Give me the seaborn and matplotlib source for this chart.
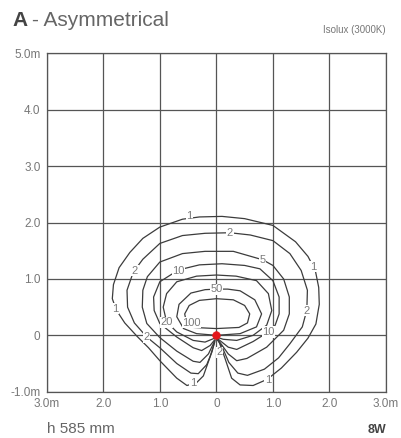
import numpy as np
import pandas as pd
import matplotlib
matplotlib.use("Agg")
import matplotlib.pyplot as plt
import seaborn as sns

# Isolux lines (lux levels) traced as closed paths, coordinates in metres
levels = [1, 2, 5, 10, 20, 50, 100]

iso_1_x = [-0.02, -0.11, -0.23, -0.35, -0.52, -0.70, -1.00, -1.20, -1.40, -1.62, -1.77, -1.84, -1.82, -1.72,
           -1.53, -1.30, -1.00, -0.60, -0.30, 0.10, 0.50, 1.00, 1.40, 1.62, 1.75, 1.81, 1.82, 1.76, 1.62,
           1.42, 1.15, 0.90, 0.65, 0.42, 0.27, 0.15, 0.05, 0.00]
iso_1_y = [-0.08, -0.38, -0.72, -0.84, -0.89, -0.76, -0.45, -0.22, -0.02, 0.22, 0.45, 0.65, 0.90, 1.20,
           1.47, 1.72, 1.92, 2.06, 2.10, 2.11, 2.07, 1.95, 1.66, 1.40, 1.15, 0.85, 0.55, 0.20, -0.05,
           -0.30, -0.58, -0.78, -0.89, -0.88, -0.76, -0.40, -0.12, -0.05]

iso_2_x = [-0.03, -0.08, -0.17, -0.32, -0.45, -0.70, -1.00, -1.23, -1.45, -1.57, -1.58, -1.47, -1.30,
           -1.00, -0.60, -0.20, 0.24, 0.60, 1.00, 1.30, 1.50, 1.61, 1.60, 1.52, 1.30, 1.10, 0.85, 0.55,
           0.38, 0.22, 0.10, 0.00]
iso_2_y = [-0.12, -0.30, -0.52, -0.68, -0.67, -0.50, -0.22, -0.03, 0.22, 0.50, 0.80, 1.12, 1.35,
           1.63, 1.77, 1.81, 1.82, 1.78, 1.68, 1.45, 1.15, 0.80, 0.45, 0.15, -0.15, -0.40, -0.60, -0.71,
           -0.67, -0.48, -0.20, -0.05]

iso_5_x = [-0.03, -0.14, -0.29, -0.41, -0.70, -1.00, -1.23, -1.31, -1.30, -1.22, -1.00, -0.60, -0.20,
           0.30, 0.82, 1.00, 1.19, 1.29, 1.29, 1.19, 0.89, 0.54, 0.36, 0.21, 0.06, 0.00]
iso_5_y = [-0.10, -0.33, -0.48, -0.46, -0.28, -0.04, 0.21, 0.50, 0.80, 1.04, 1.30, 1.45, 1.49,
           1.49, 1.34, 1.24, 1.00, 0.68, 0.38, 0.09, -0.21, -0.41, -0.45, -0.33, -0.12, -0.04]

iso_10_x = [-0.03, -0.11, -0.26, -0.41, -0.70, -1.00, -1.10, -1.11, -1.00, -0.67, -0.30, 0.10, 0.50,
            0.77, 1.00, 1.11, 1.11, 1.04, 0.92, 0.65, 0.36, 0.21, 0.06, 0.00]
iso_10_y = [-0.08, -0.18, -0.27, -0.22, -0.03, 0.21, 0.44, 0.68, 0.95, 1.16, 1.25, 1.27, 1.24,
            1.18, 0.97, 0.68, 0.38, 0.18, 0.06, -0.11, -0.25, -0.21, -0.09, -0.04]

iso_20_x = [-0.03, -0.20, -0.41, -0.70, -0.88, -0.94, -0.88, -0.70, -0.35, 0.00, 0.35, 0.71, 0.92,
            0.98, 0.89, 0.65, 0.36, 0.12, 0.00]
iso_20_y = [-0.05, -0.12, -0.09, 0.06, 0.24, 0.50, 0.74, 0.95, 1.05, 1.07, 1.05, 0.97, 0.74,
            0.44, 0.18, 0.00, -0.09, -0.07, -0.03]

iso_50_x = [0.00, -0.35, -0.58, -0.70, -0.66, -0.45, -0.20, 0.00, 0.20, 0.42, 0.68, 0.80, 0.71, 0.42, 0.00]
iso_50_y = [0.00, 0.03, 0.12, 0.33, 0.55, 0.75, 0.81, 0.82, 0.82, 0.79, 0.63, 0.38, 0.15, 0.03, 0.00]

iso_100_x = [0.00, -0.40, -0.53, -0.56, -0.48, -0.30, 0.00, 0.30, 0.50, 0.59, 0.55, 0.40, 0.00]
iso_100_y = [0.12, 0.14, 0.23, 0.38, 0.53, 0.62, 0.65, 0.63, 0.53, 0.38, 0.22, 0.14, 0.12]

# Label text and its position on the lines
label_text = ["1", "2", "5", "10", "50", "1", "2", "1", "2", "20", "100", "2", "10", "2", "1", "1"]
label_x = [-0.48, 0.24, 0.82, -0.67, 0.00, 1.71, -1.44, -1.79, 1.59, -0.88, -0.44, -1.23, 0.92, 0.06, -0.41, 0.91]
label_y = [2.12, 1.82, 1.33, 1.15, 0.82, 1.22, 1.15, 0.47, 0.44, 0.23, 0.22, -0.03, 0.06, -0.30, -0.85, -0.80]

x_ticks = [-3, -2, -1, 0, 1, 2, 3]
x_tick_labels = ["3.0m", "2.0", "1.0", "0", "1.0", "2.0", "3.0m"]
y_ticks = [-1, 0, 1, 2, 3, 4, 5]
y_tick_labels = ["-1.0m", "0", "1.0", "2.0", "3.0", "4.0", "5.0m"]

source_x = [0.0]
source_y = [0.0]

paths = {
    1: (iso_1_x, iso_1_y), 2: (iso_2_x, iso_2_y), 5: (iso_5_x, iso_5_y), 10: (iso_10_x, iso_10_y),
    20: (iso_20_x, iso_20_y), 50: (iso_50_x, iso_50_y), 100: (iso_100_x, iso_100_y),
}
frames = []
for lv in levels:
    xs, ys = paths[lv]
    frames.append(pd.DataFrame({"x": xs, "y": ys, "level": lv, "order": range(len(xs))}))
iso = pd.concat(frames, ignore_index=True)

sns.set_theme(style="white")
plt.rcParams["font.family"] = ["Liberation Sans", "DejaVu Sans"]

fig = plt.figure(figsize=(4.01, 4.38), dpi=100)
ax = fig.add_axes([0.1165, 0.1057, 0.8461, 0.7722])

line_col = "#3c3c3c"
sns.lineplot(data=iso, x="x", y="y", units="level", estimator=None, sort=False,
             color=line_col, lw=0.9, legend=False, ax=ax, zorder=3)

for t, lx, ly in zip(label_text, label_x, label_y):
    ax.text(lx, ly, t, ha="center", va="center", fontsize=8, color="#7a7a7a", zorder=4,
            bbox=dict(boxstyle="square,pad=0.05", fc="white", ec="none"))

sns.scatterplot(x=source_x, y=source_y, color="#e3161b", s=30, edgecolor="#e3161b",
                linewidth=0.5, ax=ax, zorder=5, legend=False)

ax.set_xlim(-3, 3)
ax.set_ylim(-1, 5)
ax.set_xticks(x_ticks)
ax.set_xticklabels(x_tick_labels)
ax.set_yticks(y_ticks)
ax.set_yticklabels(y_tick_labels)
ax.set_xlabel("")
ax.set_ylabel("")
ax.grid(True, color="#555555", lw=0.9, zorder=1)
ax.set_axisbelow(True)
for s in ax.spines.values():
    s.set_visible(True)
    s.set_color("#555555")
    s.set_linewidth(0.9)
ax.tick_params(axis="both", length=0, labelsize=8.5, labelcolor="#777777", pad=4.5)

fig.text(0.030, 0.9406, "A", fontsize=15, fontweight="bold", color="#444444", va="baseline")
fig.text(0.0786, 0.9406, "- Asymmetrical", fontsize=15, color="#666666", va="baseline")
fig.text(0.9626, 0.925, "Isolux (3000K)", fontsize=7, color="#777777", ha="right", va="baseline")
fig.text(0.1165, 0.011, "h 585 mm", fontsize=11, color="#666666", ha="left", va="baseline")
fig.text(0.9626, 0.011, "8W", fontsize=9, fontweight="bold", color="#444444", ha="right", va="baseline")

fig.savefig("out.png", dpi=100)
